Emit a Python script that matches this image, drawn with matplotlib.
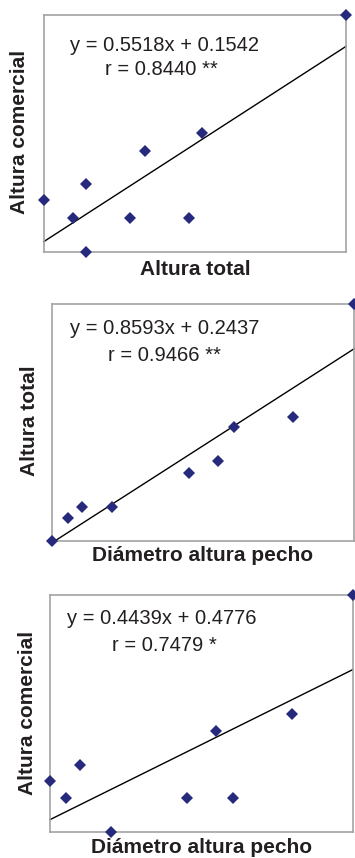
import numpy as np
import matplotlib
matplotlib.use("Agg")
import matplotlib.pyplot as plt

plt.rcParams['font.family'] = ['Liberation Sans', 'DejaVu Sans']

# Normalised (min-max) values, one entry per tree
dap = [0.0, 0.054, 0.100, 0.200, 0.453, 0.550, 0.604, 0.798, 1.0]
altura_total = [0.0, 0.096, 0.141, 0.141, 0.285, 0.335, 0.479, 0.523, 1.0]
altura_comercial = [0.217, 0.143, 0.285, 0.0, 0.143, 0.425, 0.143, 0.500, 1.0]

panels = [
    dict(x=altura_total, y=altura_comercial, xlabel="Altura total", ylabel="Altura comercial",
         eq="y = 0.5518x + 0.1542", r="r = 0.8440 **"),
    dict(x=dap, y=altura_total, xlabel="Diámetro altura pecho", ylabel="Altura total",
         eq="y = 0.8593x + 0.2437", r="r = 0.9466 **"),
    dict(x=dap, y=altura_comercial, xlabel="Diámetro altura pecho", ylabel="Altura comercial",
         eq="y = 0.4439x + 0.4776", r="r = 0.7479 *"),
]

W, H = 355, 858
fig = plt.figure(figsize=(W / 100, H / 100), dpi=100)

# layout in pixels: left, right, top, bottom
boxes = [(43.7, 346.0, 15.0, 251.7), (51.7, 354.3, 304.0, 540.7), (50.0, 352.7, 595.0, 832.3)]
eq_pos = [((0.398, 0.849), (0.390, 0.745)),
          ((0.374, 0.873), (0.374, 0.760)),
          ((0.370, 0.878), (0.377, 0.765))]
xlab_y = [-0.035, -0.022, -0.024]
ylab_x = [-0.079, -0.073, -0.073]

marker_color = "#262a7c"
text_color = "#231f20"

for p, (l, r, t, b), (e1, e2), xl, yl in zip(panels, boxes, eq_pos, xlab_y, ylab_x):
    ax = fig.add_axes([l / W, (H - b) / H, (r - l) / W, (b - t) / H])
    x = np.asarray(p["x"])
    y = np.asarray(p["y"])
    slope, icpt = np.polyfit(x, y, 1)
    xs = np.array([x.min(), x.max()])
    ax.plot(xs, slope * xs + icpt, color="black", lw=1.0, zorder=2, clip_on=False)
    ax.plot(x, y, linestyle="none", marker="D", markersize=6.6, color=marker_color,
            markeredgewidth=0, zorder=3, clip_on=False)
    ax.set_xlim(0, 1)
    ax.set_ylim(0, 1)
    ax.set_xticks([])
    ax.set_yticks([])
    for s in ax.spines.values():
        s.set_color("#a3a3a3")
        s.set_linewidth(1.2)
    ax.set_xlabel(p["xlabel"], fontsize=15, fontweight="bold", color=text_color)
    ax.xaxis.set_label_coords(0.5, xl)
    ax.set_ylabel(p["ylabel"], fontsize=15, fontweight="bold", color=text_color)
    ax.yaxis.label.set_va("center")
    ax.yaxis.label.set_ha("center")
    ax.yaxis.set_label_coords(yl, 0.505)
    ax.text(e1[0], e1[1], p["eq"], transform=ax.transAxes, ha="center", va="baseline",
            fontsize=14.5, color=text_color)
    ax.text(e2[0], e2[1], p["r"], transform=ax.transAxes, ha="center", va="baseline",
            fontsize=14.5, color=text_color)

fig.savefig("out.png", dpi=100)
